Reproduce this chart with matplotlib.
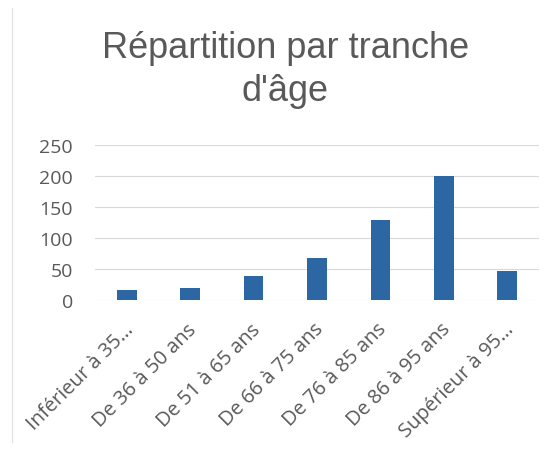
import matplotlib.pyplot as plt
import matplotlib.transforms as mtransforms

# Données
tranches = ['Inférieur à 35…', 'De 36 à 50 ans', 'De 51 à 65 ans', 'De 66 à 75 ans',
            'De 76 à 85 ans', 'De 86 à 95 ans', 'Supérieur à 95…']
effectifs = [17, 20, 39, 68, 130, 200, 48]
graduations = [0, 50, 100, 150, 200, 250]

gris = '#595959'

fig = plt.figure(figsize=(5.58, 4.52), dpi=100)
ax = fig.add_axes([0.1703, 0.333, 0.7957, 0.344])

x = range(len(tranches))
ax.bar(x, effectifs, width=0.31, color='#2c66a3', zorder=3)

ax.set_xlim(-0.5, len(tranches) - 0.5)
ax.set_ylim(0, 250)
ax.set_yticks(graduations)
ax.set_yticklabels([str(v) for v in graduations], fontsize=14, color=gris, family='Open Sans')
ax.yaxis.grid(True, color='#d9d9d9', linewidth=0.8, zorder=0)

# tick_params avant de décaler les étiquettes (sinon le décalage est perdu)
ax.tick_params(axis='x', length=0, pad=0)
ax.tick_params(axis='y', length=0, pad=16)

ax.set_xticks(list(x))
ax.set_xticklabels(tranches, rotation=45, ha='right', va='baseline', rotation_mode='anchor',
                   fontsize=14.5, color=gris, family='Open Sans')
offset = mtransforms.ScaledTranslation(7 / 100, -29 / 100, fig.dpi_scale_trans)
for lab in ax.get_xticklabels():
    lab.set_transform(lab.get_transform() + offset)

for s in ax.spines.values():
    s.set_visible(False)

fig.text(0.511, 0.845, "Répartition par tranche\nd'âge", ha='center', va='center',
         fontsize=26, color=gris, family='Liberation Sans', linespacing=1.27)

# bord gauche du cadre
fig.add_artist(plt.Line2D([12 / 558, 12 / 558], [0.02, 0.98], color='#e0e0e0', linewidth=0.8))

fig.savefig('out.png', dpi=100)
